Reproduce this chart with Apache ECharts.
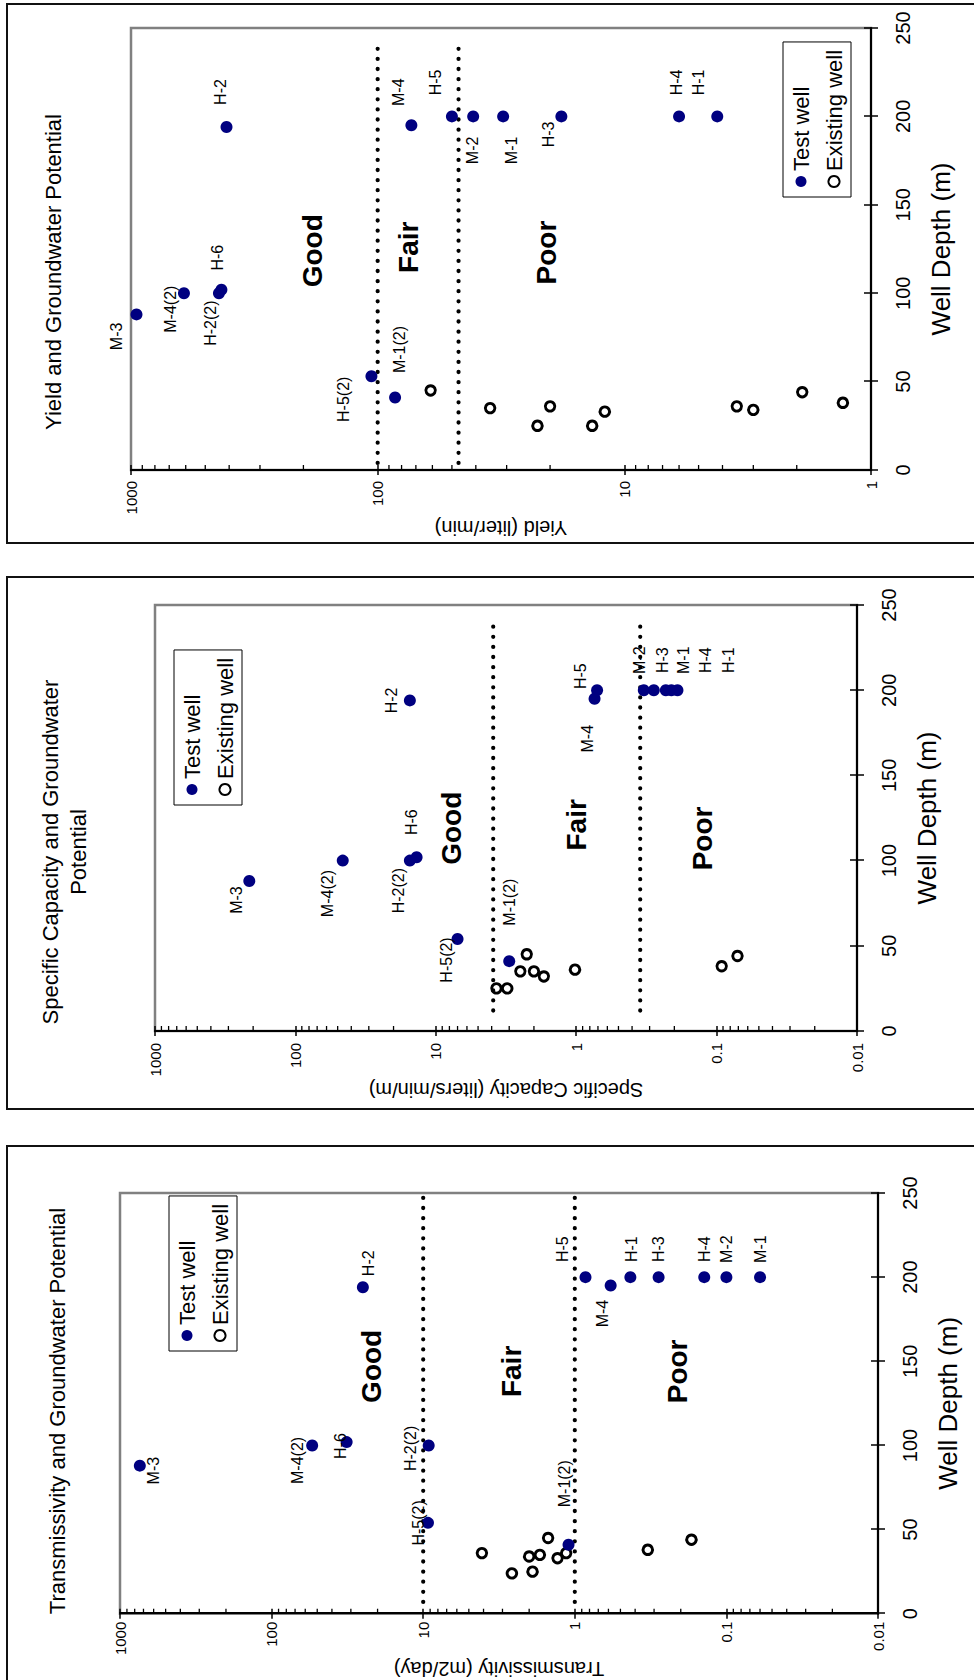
<!DOCTYPE html>
<html><head><meta charset="utf-8">
<script src="https://cdn.jsdelivr.net/npm/echarts@6.0.0/dist/echarts.min.js"></script>
<style>
html,body{margin:0;padding:0;background:#fff;overflow:hidden;}
#wrap{position:absolute;left:0;top:0;width:974px;height:1680px;overflow:hidden;background:#fff;}
#chart{position:absolute;left:0;top:0;width:1680px;height:974px;transform-origin:0 0;transform:translate(0,1680px) rotate(-90deg);}
</style></head>
<body><div id="wrap"><div id="chart"></div></div>
<script>
// ================= DATA =================
const depthMin = 0, depthMax = 250, depthStep = 50;
const seriesNames = ['Test well', 'Existing well'];
const zoneNames = ['Good', 'Fair', 'Poor'];

// --- Transmissivity (m2/day) ---
const transTestNames = ['M-3','M-4(2)','H-6','H-2','H-2(2)','H-5(2)','M-1(2)','H-5','M-4','H-1','H-3','H-4','M-2','M-1'];
const transTestDepth = [88,100,102,194,100,54,41,200,195,200,200,200,200,200];
const transTestValue = [740,54,32,25,9.2,9.3,1.1,0.85,0.58,0.43,0.28,0.14,0.1,0.06];
const transExistDepth = [36,24,34,25,35,45,33,36,38,44];
const transExistValue = [4.1,2.6,2.0,1.9,1.7,1.5,1.3,1.14,0.33,0.17];
const transBounds = [10, 1];
const transBoundDepth = [7, 252];
const transZoneDepth = [147, 144, 144];
const transZoneValue = [22, 2.6, 0.21];

// --- Specific Capacity (liters/min/m) ---
const specTestNames = ['M-3','M-4(2)','H-2','H-2(2)','H-6','H-5(2)','M-1(2)','H-5','M-4','M-2','H-3','M-1','H-4','H-1'];
const specTestDepth = [88,100,194,100,102,54,41,200,195,200,200,200,200,200];
const specTestValue = [213,46,15.3,15.3,13.7,7.0,3.0,0.71,0.74,0.33,0.28,0.23,0.21,0.19];
const specExistDepth = [25,25,45,35,35,32,36,38,44];
const specExistValue = [3.7,3.1,2.25,2.5,2.0,1.7,1.02,0.092,0.071];
const specBounds = [3.9, 0.35];
const specBoundDepth = [12, 240];
const specZoneDepth = [119, 121, 113];
const specZoneValue = [7.7, 0.99, 0.125];

// --- Yield (liter/min) ---
const yieldTestNames = ['M-3','M-4(2)','H-2(2)','H-6','H-2','H-5(2)','M-1(2)','M-4','H-5','M-2','M-1','H-3','H-4','H-1'];
const yieldTestDepth = [88,100,100,102,194,53,41,195,200,200,200,200,200,200];
const yieldTestValue = [950,610,440,430,410,106,85,73,50,41,31,18,6.0,4.2];
const yieldExistDepth = [45,35,25,36,25,33,36,34,44,38];
const yieldExistValue = [61,35,22.5,20,13.5,12,3.5,3.0,1.9,1.3];
const yieldBounds = [100, 47];
const yieldBoundDepth = [4, 241];
const yieldZoneDepth = [124, 126, 123];
const yieldZoneValue = [184, 75, 20.6];

// ================= STYLE / LAYOUT (unrotated frame) =================
const FONT = 'Liberation Sans, Arial, Helvetica, sans-serif';
const NAVY = '#000080';
const labelOffset = {
  trans: {'M-3':[-5,14],'M-4(2)':[-15,-15],'H-6':[-4,-6],'H-2':[24,6],'H-2(2)':[-3,-18],'H-5(2)':[0,-9],
          'M-1(2)':[61,-4],'H-5':[28,-23],'M-4':[-28,-8],'H-1':[28,1],'H-3':[28,0],'H-4':[28,0],'M-2':[28,0],'M-1':[28,0]},
  spec:  {'M-3':[-19,-13],'M-4(2)':[-33,-15],'H-2':[0,-18],'H-2(2)':[-30,-11],'H-6':[35,-5],'H-5(2)':[-21,-11],
          'M-1(2)':[59,0],'H-5':[14,-17],'M-4':[-40,-7],'M-2':[30,-4],'H-3':[30,9],'M-1':[30,18],'H-4':[30,34],'H-1':[30,51]},
  yield: {'M-3':[-22,-20],'M-4(2)':[-16,-13],'H-2(2)':[-30,-8],'H-6':[32,-4],'H-2':[35,-6],'H-5(2)':[-23,-28],
          'M-1(2)':[48,4],'M-4':[33,-13],'H-5':[34,-16],'M-2':[-34,-1],'M-1':[-34,8],'H-3':[-18,-13],'H-4':[34,-3],'H-1':[34,-19]}
};

const panels = [
  {key:'trans', grid:{left:51, top:120, width:436, height:758}, ymin:0.01, ymax:1000,
   title:'Transmissivity and Groundwater Potential', titleLeft:269, titleTop:43,
   yName:'Transmissivity (m2/day)', yNameGap:21, yLabelMargin:8, legend:{left:329, top:169}, box:[-10,544],
   testNames:transTestNames, testDepth:transTestDepth, testValue:transTestValue,
   existDepth:transExistDepth, existValue:transExistValue, bounds:transBounds, boundDepth:transBoundDepth,
   zoneDepth:transZoneDepth, zoneValue:transZoneValue},
  {key:'spec', grid:{left:649, top:155, width:426, height:702}, ymin:0.01, ymax:1000,
   title:'Specific Capacity and Groundwater\nPotential', titleLeft:828, titleTop:36,
   yName:'Specific Capacity (liters/min/m)', yNameGap:27, yLabelMargin:12, legend:{left:875, top:174}, box:[571,532],
   testNames:specTestNames, testDepth:specTestDepth, testValue:specTestValue,
   existDepth:specExistDepth, existValue:specExistValue, bounds:specBounds, boundDepth:specBoundDepth,
   zoneDepth:specZoneDepth, zoneValue:specZoneValue},
  {key:'yield', grid:{left:1210, top:131, width:442, height:740}, ymin:1, ymax:1000,
   title:'Yield and Groundwater Potential', titleLeft:1408, titleTop:39,
   yName:'Yield (liter/min)', yNameGap:40, yLabelMargin:11, legend:{left:1483, top:783}, box:[1137,539],
   testNames:yieldTestNames, testDepth:yieldTestDepth, testValue:yieldTestValue,
   existDepth:yieldExistDepth, existValue:yieldExistValue, bounds:yieldBounds, boundDepth:yieldBoundDepth,
   zoneDepth:yieldZoneDepth, zoneValue:yieldZoneValue}
];

function minorTicks(min, max) {
  const out = [];
  for (let e = Math.round(Math.log10(min)); e < Math.round(Math.log10(max)); e++) {
    for (let k = 2; k <= 9; k++) out.push(Number((k * Math.pow(10, e)).toPrecision(3)));
  }
  return out;
}

const option = {
  animation: false,
  textStyle: {fontFamily: FONT, color: '#000'},
  title: [], legend: [], grid: [], xAxis: [], yAxis: [], series: [],
  graphic: []
};

panels.forEach((p, i) => {
  const xi = 2 * i, yi = 2 * i;
  option.grid.push(Object.assign({show: true, borderColor: '#808080', borderWidth: 2.5, backgroundColor: 'transparent'}, p.grid));
  option.title.push({text: p.title, left: p.titleLeft, top: p.titleTop, textAlign: 'center', padding: 0,
    textStyle: {fontFamily: FONT, fontSize: 22, fontWeight: 'normal', color: '#000', lineHeight: 28}});
  option.legend.push({data: seriesNames, orient: 'vertical', left: p.legend.left, top: p.legend.top,
    selectedMode: false, itemWidth: 11, itemHeight: 11, itemGap: 9, padding: [6, 8, 5, 9],
    backgroundColor: '#fff', borderColor: '#000', borderWidth: 1,
    textStyle: {fontFamily: FONT, fontSize: 22, color: '#000', lineHeight: 24}});
  // depth axis (main + inner tick half)
  const xBase = {gridIndex: i, type: 'value', min: depthMin, max: depthMax, interval: depthStep, position: 'bottom', splitLine: {show: false}};
  option.xAxis.push(Object.assign({}, xBase, {
    axisLine: {show: true, onZero: false, lineStyle: {color: '#000', width: 2}},
    axisTick: {show: true, inside: false, length: 7, lineStyle: {color: '#000', width: 1.5}},
    axisLabel: {show: true, margin: 22, fontSize: 20, color: '#000', fontFamily: FONT},
    name: 'Well Depth (m)', nameLocation: 'middle', nameGap: 57,
    nameTextStyle: {fontSize: 26, color: '#000', fontFamily: FONT}
  }));
  option.xAxis.push(Object.assign({}, xBase, {
    axisLine: {show: false}, axisTick: {show: true, inside: true, length: 7, lineStyle: {color: '#000', width: 1.5}},
    axisLabel: {show: false}
  }));
  // value (log) axis
  const yBase = {gridIndex: i, type: 'log', logBase: 10, min: p.ymin, max: p.ymax, position: 'left', splitLine: {show: false}};
  option.yAxis.push(Object.assign({}, yBase, {
    axisLine: {show: true, onZero: false, lineStyle: {color: '#000', width: 2}},
    axisTick: {show: true, inside: false, length: 5, lineStyle: {color: '#000', width: 1.5}},
    axisLabel: {show: true, margin: p.yLabelMargin, fontSize: 15, color: '#000', fontFamily: FONT,
      formatter: v => String(Number(v.toPrecision(6)))},
    name: p.yName, nameLocation: 'middle', nameGap: p.yNameGap, nameRotate: 90,
    nameTextStyle: {fontSize: 20, color: '#000', fontFamily: FONT, backgroundColor: '#fff', padding: [0, 2, 0, 2]}
  }));
  option.yAxis.push(Object.assign({}, yBase, {
    axisLine: {show: false}, axisTick: {show: true, inside: true, length: 5, lineStyle: {color: '#000', width: 1.5}},
    axisLabel: {show: false}
  }));

  const offs = labelOffset[p.key];
  // test wells
  option.series.push({
    name: 'Test well', type: 'scatter', xAxisIndex: xi, yAxisIndex: yi, z: 5,
    symbol: 'circle', symbolSize: 12, itemStyle: {color: NAVY, opacity: 1},
    emphasis: {disabled: true},
    label: {show: true, position: 'inside', fontSize: 16, color: '#000', fontFamily: FONT, formatter: '{b}'},
    data: p.testNames.map((n, k) => ({name: n, value: [p.testDepth[k], p.testValue[k]],
      label: {offset: offs[n] || [0, 0]}}))
  });
  // existing wells
  option.series.push({
    name: 'Existing well', type: 'scatter', xAxisIndex: xi, yAxisIndex: yi, z: 4,
    symbol: 'circle', symbolSize: 9.5,
    itemStyle: {color: 'rgba(255,255,255,0)', borderColor: '#000', borderWidth: 2.9, opacity: 1},
    emphasis: {disabled: true},
    data: p.existDepth.map((d, k) => [d, p.existValue[k]])
  });
  // boundary dotted lines
  p.bounds.forEach((b, k) => {
    option.series.push({
      name: 'boundary' + i + k, type: 'line', xAxisIndex: xi, yAxisIndex: yi, z: 3,
      symbol: 'none', showSymbol: false, silent: true,
      lineStyle: {color: '#000', width: 4.2, type: [0.1, 10], cap: 'round', opacity: 1},
      data: [[p.boundDepth[0], b], [p.boundDepth[1], b]]
    });
  });
  // zone labels
  option.series.push({
    name: 'zones' + i, type: 'scatter', xAxisIndex: xi, yAxisIndex: yi, z: 6, silent: true,
    symbol: 'circle', symbolSize: 0.1, itemStyle: {color: 'rgba(0,0,0,0)', opacity: 1},
    label: {show: true, position: 'inside', formatter: '{b}', fontSize: 28, fontWeight: 'bold', color: '#000', fontFamily: FONT},
    data: zoneNames.map((n, k) => ({name: n, value: [p.zoneDepth[k], p.zoneValue[k]]}))
  });
  // minor ticks on log axis (drawn through the axis scale)
  option.series.push({
    name: 'minor' + i, type: 'custom', xAxisIndex: xi, yAxisIndex: yi, clip: false, silent: true, z: 7,
    data: minorTicks(p.ymin, p.ymax).map(v => [depthMin, v]),
    renderItem: (params, api) => {
      const pt = api.coord([api.value(0), api.value(1)]);
      return {type: 'line', shape: {x1: pt[0], y1: pt[1], x2: pt[0] + 5, y2: pt[1]},
        style: {stroke: '#000', lineWidth: 1.3}};
    }
  });
  // outer panel frame
  option.graphic.push({type: 'rect', silent: true, z: 100,
    shape: {x: p.box[0], y: 7, width: p.box[1], height: 1000},
    style: {fill: null, stroke: '#111', lineWidth: 2}});
});

const chart = echarts.init(document.getElementById('chart'), null, {renderer: 'svg', width: 1680, height: 974});
chart.setOption(option);
</script>
</body></html>
